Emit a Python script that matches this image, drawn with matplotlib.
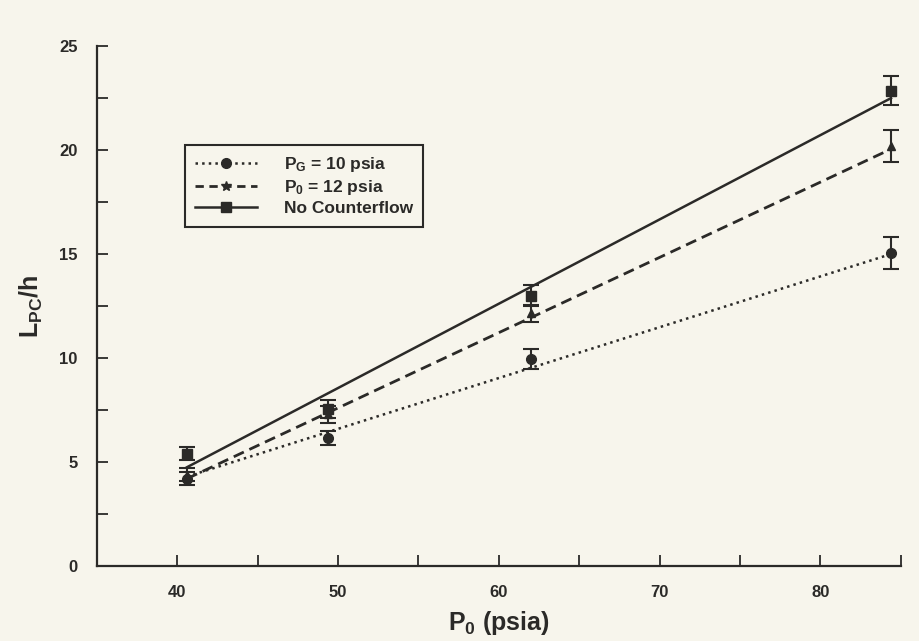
import matplotlib.pyplot as plt
from matplotlib.ticker import MultipleLocator

# pressures (psia)
p0 = [40.6, 49.4, 62.0, 84.4]

# L_PC/h readings and error bar half-widths
pg10 = [4.2, 6.15, 9.95, 15.05]
pg10_err = [0.3, 0.35, 0.5, 0.75]
pg12 = [4.4, 7.3, 12.15, 20.2]
pg12_err = [0.3, 0.4, 0.4, 0.75]
nocf = [5.4, 7.55, 13.0, 22.85]
nocf_err = [0.3, 0.45, 0.5, 0.7]

# fitted lines, read at the end points
fit_x = [40.6, 84.4]
fit_pg10 = [4.3, 15.0]
fit_pg12 = [4.2, 20.05]
fit_nocf = [4.75, 22.5]

ink = '#2b2a28'
paper = '#f7f5ec'

plt.rcParams['font.family'] = ['Liberation Sans', 'DejaVu Sans']
plt.rcParams['font.weight'] = 'bold'
plt.rcParams['mathtext.fontset'] = 'custom'
plt.rcParams['mathtext.rm'] = 'Liberation Sans:bold'
plt.rcParams['mathtext.it'] = 'Liberation Sans:bold'
plt.rcParams['mathtext.bf'] = 'Liberation Sans:bold'

fig = plt.figure(figsize=(9.19, 6.41), dpi=100, facecolor=paper)
ax = fig.add_axes([0.1055, 0.117, 0.8745, 0.811], facecolor=paper)

ax.plot(fit_x, fit_pg10, ':', color=ink, lw=1.8, zorder=2)
ax.plot(fit_x, fit_pg12, '--', color=ink, lw=2.0, dashes=(4, 2.2), zorder=2)
ax.plot(fit_x, fit_nocf, '-', color=ink, lw=1.8, zorder=2)

ekw = dict(color=ink, ecolor=ink, elinewidth=1.5, capsize=5.5, capthick=1.5, ls='none', zorder=3)
ax.errorbar(p0, pg10, yerr=pg10_err, marker='o', ms=7, **ekw)
ax.errorbar(p0, pg12, yerr=pg12_err, marker='^', ms=6, **ekw)
ax.errorbar(p0, nocf, yerr=nocf_err, marker='s', ms=7, **ekw)

# legend proxies
h1, = ax.plot([], [], ':', marker='o', ms=7, color=ink, lw=1.8)
h2, = ax.plot([], [], '--', marker='*', ms=7, color=ink, lw=2.0, dashes=(3, 2))
h3, = ax.plot([], [], '-', marker='s', ms=7, color=ink, lw=1.8)
leg = ax.legend([h1, h2, h3], ['P$_G$ = 10 psia', 'P$_0$ = 12 psia', 'No Counterflow'],
                loc='upper left', bbox_to_anchor=(0.109, 0.81), borderaxespad=0,
                fancybox=False, edgecolor=ink, facecolor=paper, framealpha=1,
                prop={'size': 12.5, 'weight': 'bold'},
                handlelength=3.6, handletextpad=1.5, labelspacing=0.22,
                borderpad=0.6)
leg.get_frame().set_linewidth(1.5)
for t in leg.get_texts():
    t.set_color(ink)

ax.set_xlim(35, 85)
ax.set_ylim(0, 25)
ax.xaxis.set_minor_locator(MultipleLocator(5))
ax.yaxis.set_major_locator(MultipleLocator(5))
ax.yaxis.set_minor_locator(MultipleLocator(2.5))
ax.set_xticks([40, 50, 60, 70, 80])
ax.tick_params(which='both', direction='in', length=8, width=1.3, color=ink,
               labelcolor=ink, labelsize=12)
ax.tick_params(axis='y', pad=14)
ax.tick_params(axis='x', pad=14)

for s in ['top', 'right']:
    ax.spines[s].set_visible(False)
for s in ['left', 'bottom']:
    ax.spines[s].set_color(ink)
    ax.spines[s].set_linewidth(1.6)

ax.set_xlabel('P$_0$ (psia)', fontsize=18, fontweight='bold', color=ink, labelpad=6)
ax.set_ylabel('L$_{PC}$/h', fontsize=18, fontweight='bold', color=ink, labelpad=10)

fig.savefig('out.png', dpi=100, facecolor=paper)
